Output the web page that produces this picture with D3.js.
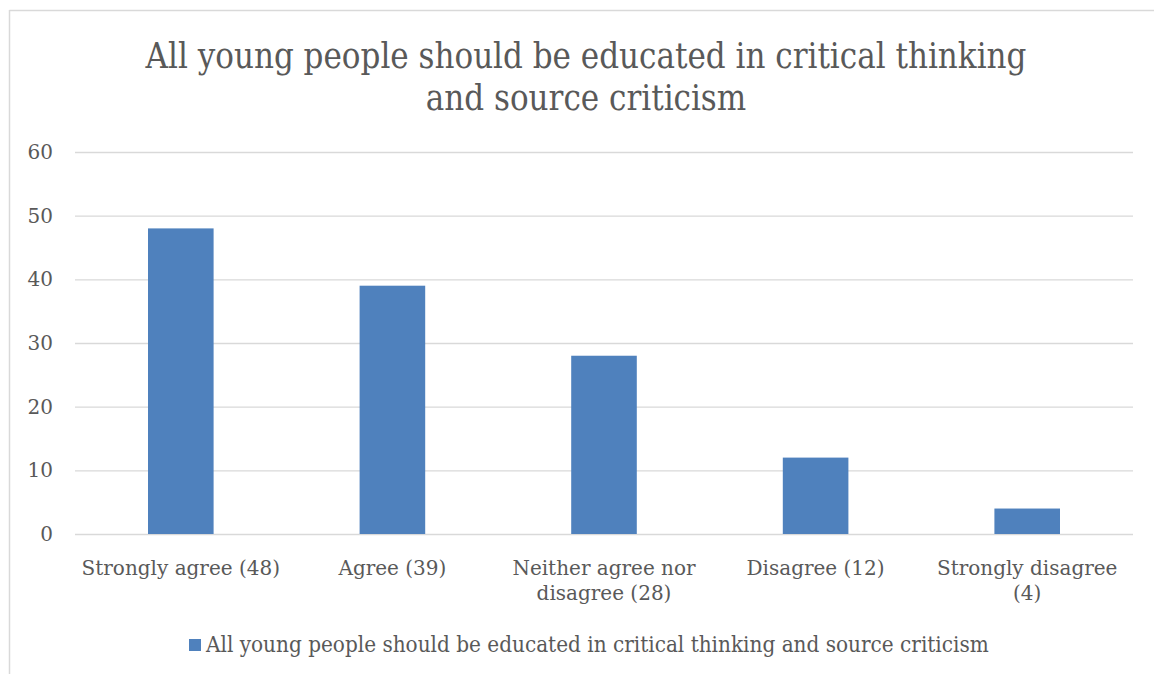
<!DOCTYPE html>
<html>
<head>
<meta charset="utf-8">
<script src="https://cdn.jsdelivr.net/npm/d3@7"></script>
<style>
  html, body { margin: 0; padding: 0; background: #fff; }
  svg { display: block; }
  text { font-family: "DejaVu Serif", "Liberation Serif", serif; fill: #595959; }
</style>
</head>
<body>
<svg id="chart" width="1154" height="674"></svg>
<script>
// Survey responses
const categories = [
  ["Strongly agree (48)"],
  ["Agree (39)"],
  ["Neither agree nor", "disagree (28)"],
  ["Disagree (12)"],
  ["Strongly disagree", "(4)"]
];
const values = [48, 39, 28, 12, 4];
const yTicks = [0, 10, 20, 30, 40, 50, 60];
const titleLines = ["All young people should be educated in critical thinking", "and source criticism"];
const seriesName = "All young people should be educated in critical thinking and source criticism";

const W = 1154, H = 674;
const svg = d3.select("#chart");
const barColor = "#4f81bd";
const gridColor = "#d9d9d9";
const textColor = "#595959";

// Outer chart frame (top and left edges)
svg.append("line").attr("x1", 9.5).attr("x2", W).attr("y1", 10.5).attr("y2", 10.5)
  .attr("stroke", gridColor).attr("stroke-width", 1.5);
svg.append("line").attr("x1", 9.5).attr("x2", 9.5).attr("y1", 10).attr("y2", H)
  .attr("stroke", gridColor).attr("stroke-width", 1.5);

const plot = { left: 75, right: 1133, top: 152, bottom: 534 };

const x = d3.scaleBand()
  .domain(d3.range(categories.length))
  .range([plot.left, plot.right])
  .padding(0);
const y = d3.scaleLinear().domain([0, 60]).range([plot.bottom, plot.top]);

// Title (condensed serif, two centred lines)
const title = svg.append("text")
  .attr("text-anchor", "middle")
  .attr("font-size", 34.5)
  .attr("font-stretch", "condensed")
  .attr("y", 68);
title.selectAll("tspan").data(titleLines).join("tspan")
  .attr("x", 586).attr("dy", (d, i) => i === 0 ? 0 : 42)
  .text(d => d);

// Gridlines and value axis
const yAxis = d3.axisLeft(y).tickValues(yTicks).tickSize(-(plot.right - plot.left)).tickPadding(22);
const gy = svg.append("g").attr("transform", `translate(${plot.left},0)`).call(yAxis);
gy.select(".domain").remove();
gy.selectAll(".tick line").attr("stroke", gridColor).attr("stroke-width", 1.3);
gy.selectAll(".tick text").attr("font-size", 20).attr("fill", textColor)
  .attr("font-family", "DejaVu Serif, serif");

// Bars
const barW = x.bandwidth() * 0.31;
svg.append("g").selectAll("rect").data(values).join("rect")
  .attr("x", (d, i) => x(i) + (x.bandwidth() - barW) / 2)
  .attr("y", d => y(d))
  .attr("width", barW)
  .attr("height", d => y(0) - y(d))
  .attr("fill", barColor);

// Category labels
const labels = svg.append("g").selectAll("text").data(categories).join("text")
  .attr("text-anchor", "middle")
  .attr("font-size", 20)
  .attr("y", 575);
labels.selectAll("tspan").data((d, i) => d.map(t => ({ t, i }))).join("tspan")
  .attr("x", d => x(d.i) + x.bandwidth() / 2)
  .attr("dy", (d, j) => j === 0 ? 0 : 25)
  .text(d => d.t);

// Legend
const lg = svg.append("g");
lg.append("rect").attr("x", 189).attr("y", 639).attr("width", 12).attr("height", 12).attr("fill", barColor);
lg.append("text").attr("x", 206).attr("y", 652).attr("font-size", 22.3).attr("font-stretch", "condensed").text(seriesName);
</script>
</body>
</html>
